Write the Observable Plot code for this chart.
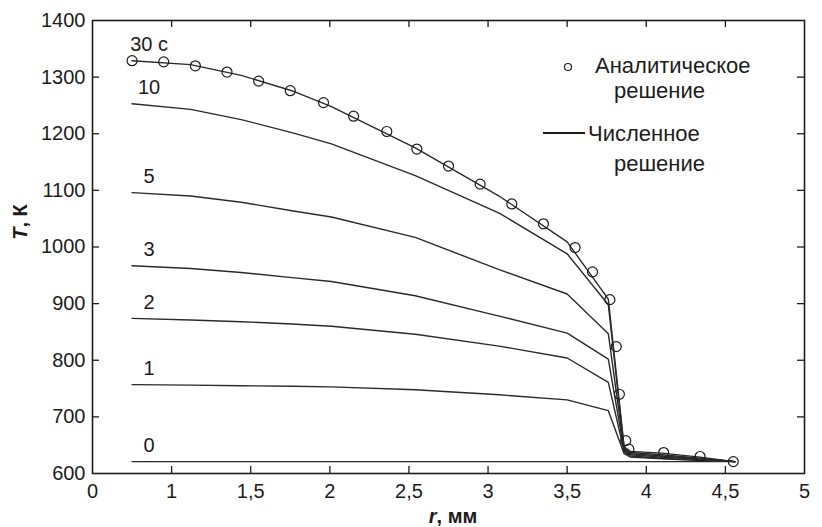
<!DOCTYPE html>
<html><head><meta charset="utf-8">
<script src="https://cdn.jsdelivr.net/npm/d3@7"></script>
<script src="https://cdn.jsdelivr.net/npm/@observablehq/plot@0.6"></script>
<style>
html,body{margin:0;padding:0;background:#fff;}
#chart{position:relative;width:822px;height:527px;}
</style></head><body><div id="chart"></div>
<script>
// Numerical solution: common radial grid (mm) and temperatures (K) per time
const rGrid = [0.75, 1.12, 1.44, 1.76, 2.01, 2.54, 3.07, 3.50, 3.76, 3.86, 3.90, 4.10, 4.34, 4.56];
const t30 = [1329, 1322, 1303, 1276, 1248, 1175, 1090, 1009, 908, 647, 639, 636, 629, 621];
const t10 = [1253, 1243, 1225, 1202, 1182, 1126, 1060, 988, 898, 645, 637, 633, 627, 621];
const t5  = [1096, 1090, 1079, 1064, 1053, 1017, 960, 917, 847, 643, 635, 631, 626, 621];
const t3  = [967, 962, 955, 946, 939, 914, 878, 848, 802, 641, 633, 629, 625, 621];
const t2  = [874, 871, 868, 864, 860, 846, 825, 804, 761, 639, 631, 627, 624, 621];
const t1  = [757, 756, 755, 754, 753, 748, 739, 730, 711, 635, 629, 626, 623, 621];
const t0  = [621, 621, 621, 621, 621, 621, 621, 621, 621, 621, 621, 621, 621, 621];
const seriesLabels = ["30 с", "10", "5", "3", "2", "1", "0"];
const seriesValues = [t30, t10, t5, t3, t2, t1, t0];

// Analytical solution (30 s)
const rAnalytic = [0.75, 0.95, 1.15, 1.35, 1.55, 1.75, 1.96, 2.15, 2.36, 2.55, 2.75, 2.95, 3.15, 3.35, 3.55, 3.66, 3.77, 3.81, 3.83, 3.87, 3.89, 4.11, 4.34, 4.55];
const tAnalytic = [1329, 1327, 1320, 1309, 1293, 1276, 1255, 1231, 1204, 1173, 1143, 1111, 1076, 1041, 999, 956, 907, 824, 740, 658, 643, 637, 630, 621];

// Axis ticks
const xTicks = [0.5, 1, 1.5, 2, 2.5, 3, 3.5, 4, 4.5, 5];
const xTickLabels = ["0", "1", "1,5", "2", "2,5", "3", "3,5", "4", "4,5", "5"];
const yTicks = [600, 700, 800, 900, 1000, 1100, 1200, 1300, 1400];

const rows = seriesLabels.flatMap((s, k) => rGrid.map((r, i) => ({series: s, r, T: seriesValues[k][i]})));
const firsts = seriesLabels.map((s, k) => ({series: s, r: rGrid[0], T: seriesValues[k][0]}));
const analytic = rAnalytic.map((r, i) => ({r, T: tAnalytic[i]}));

const W = 822, H = 527, mL = 92, mR = 18, mT = 20, mB = 54;
const innerW = W - mL - mR, innerH = H - mT - mB;
const tk = 7;
const ink = "#1c1c1c";
const font = "'Liberation Sans', Arial, Helvetica, sans-serif";

const plot = Plot.plot({
  width: W, height: H,
  marginLeft: mL, marginRight: mR, marginTop: mT, marginBottom: mB,
  style: {fontFamily: font, fontSize: "20px", color: ink, background: "#fff"},
  x: {domain: [0.5, 5], label: null},
  y: {domain: [600, 1400], label: null},
  marks: [
    Plot.axisX({ticks: xTicks, tickSize: 0, tickPadding: 10, fontSize: 20, label: null,
      tickFormat: d => xTickLabels[xTicks.indexOf(d)]}),
    Plot.axisY({ticks: yTicks, tickSize: 0, tickPadding: 7, fontSize: 20, label: null,
      tickFormat: d => String(d)}),
    Plot.tickX(xTicks.slice(1, -1), {x: d => d, insetTop: innerH - tk, stroke: ink, strokeWidth: 1.3}),
    Plot.tickX(xTicks.slice(1, -1), {x: d => d, insetBottom: innerH - tk, stroke: ink, strokeWidth: 1.3}),
    Plot.tickY(yTicks.slice(1, -1), {y: d => d, insetRight: innerW - tk, stroke: ink, strokeWidth: 1.3}),
    Plot.tickY(yTicks.slice(1, -1), {y: d => d, insetLeft: innerW - tk, stroke: ink, strokeWidth: 1.3}),
    Plot.frame({stroke: ink, strokeWidth: 1.6}),
    Plot.line(rows, {x: "r", y: "T", z: "series", stroke: "#2a2a2a", strokeWidth: 1.4}),
    Plot.dot(analytic, {x: "r", y: "T", r: 5, stroke: ink, fill: "none", strokeWidth: 1.2}),
    Plot.text(firsts, {x: "r", y: "T", text: "series", dx: 17, dy: -16, fontSize: 20, fill: ink})
  ]
});

const svg = d3.select(plot);
// Axis titles
const yl = svg.append("text")
  .attr("transform", "translate(20,222) rotate(-90)")
  .attr("text-anchor", "middle").attr("dy", "0.35em")
  .attr("font-weight", "bold").attr("font-size", 20).attr("fill", ink);
yl.append("tspan").attr("font-style", "italic").text("T");
yl.append("tspan").text(", К");
const xl = svg.append("text")
  .attr("x", 453).attr("y", 523)
  .attr("text-anchor", "middle")
  .attr("font-weight", "bold").attr("font-size", 20).attr("fill", ink);
xl.append("tspan").attr("font-style", "italic").text("r");
xl.append("tspan").text(", мм");

// Legend
const lg = svg.append("g").attr("font-size", 22).attr("fill", ink).attr("font-family", font).attr("text-anchor", "start");
lg.append("circle").attr("cx", 568).attr("cy", 67).attr("r", 3.5).attr("fill", "none").attr("stroke", ink).attr("stroke-width", 1.2);
lg.append("text").attr("x", 595).attr("y", 65).attr("dy", "0.35em").text("Аналитическое");
lg.append("text").attr("x", 614).attr("y", 90).attr("dy", "0.35em").text("решение");
lg.append("line").attr("x1", 543).attr("x2", 585).attr("y1", 133).attr("y2", 133).attr("stroke", ink).attr("stroke-width", 1.8);
lg.append("text").attr("x", 588).attr("y", 133).attr("dy", "0.35em").text("Численное");
lg.append("text").attr("x", 614).attr("y", 163).attr("dy", "0.35em").text("решение");

document.getElementById("chart").appendChild(plot);
</script>
</body></html>
